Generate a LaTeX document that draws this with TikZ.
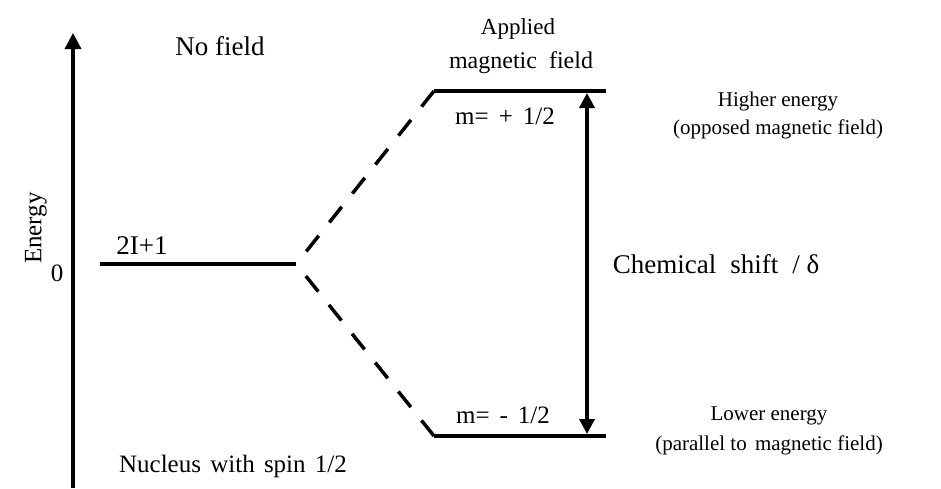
\documentclass[tikz,border=0pt]{standalone}
\usepackage{fontspec}
\setmainfont{Liberation Serif}
\usetikzlibrary{arrows.meta}
\begin{document}
\begin{tikzpicture}[x=1pt,y=-1pt,
  level/.style={line width=3.5pt},
  dashlink/.style={line width=3.5pt,dash pattern=on 20pt off 17pt},
  axis/.style={line width=3.5pt,-{Triangle[length=16pt,width=16pt]}},
  lbl/.style={font=\fontsize{25}{28}\selectfont,inner sep=0pt},
  big/.style={font=\fontsize{27}{30}\selectfont,inner sep=0pt},
  small/.style={font=\fontsize{21}{24}\selectfont,inner sep=0pt}]
\useasboundingbox (0,0) rectangle (941,488);
% energy axis
\coordinate (axb) at (73,488);
\coordinate (axt) at (73,33);
\draw[axis] (axb) -- (axt);
\node[lbl,rotate=90] (en) at (36,228) {Energy};
\node[lbl] (zero) at (57,273) {0};
% levels
\coordinate (n1) at (100,264);
\coordinate (n2) at (296,264);
\draw[level] (n1) -- (n2);
\coordinate (u1) at (434,91);
\coordinate (u2) at (606,91);
\draw[level] (u1) -- (u2);
\coordinate (l1) at (434,436);
\coordinate (l2) at (606,436);
\draw[level] (l1) -- (l2);
% dashed links
\coordinate (s1) at (297,263);
\coordinate (s2) at (297,265);
\draw[dashlink] (u1) -- (s1);
\draw[dashlink] (l1) -- (s2);
% chemical shift arrow
\coordinate (ct) at (587,93);
\coordinate (cb) at (587,434);
\draw[line width=3.5pt,{Triangle[length=15pt,width=15pt]}-{Triangle[length=15pt,width=15pt]}] (ct) -- (cb);
% texts
\node[big] (nf) at (220,46) {No field};
\node[font=\fontsize{23}{26}\selectfont,inner sep=0pt] (ap) at (518,29) {Applied};
\node[font=\fontsize{24}{26}\selectfont,inner sep=0pt] (mf) at (521,63) {magnetic\hspace{12pt}field};
\node[big] (two) at (142,246) {2I+1};
\node[lbl] (mp) at (505,116) {m=\hspace{10pt}+\hspace{10pt}1/2};
\node[lbl] (mm) at (503,415) {m=\hspace{10pt}-\hspace{10pt}1/2};
\node[big] (cs) at (716,264) {Chemical\hspace{14pt}shift\hspace{14pt}/ δ};
\node[small] (he) at (778,101) {Higher energy};
\node[small] (hp) at (778,129) {(opposed magnetic field)};
\node[small] (le) at (769,416) {Lower energy};
\node[small] (lp) at (769,445) {(parallel to\hspace{3pt} magnetic field)};
\node[lbl] (nuc) at (233,466) {Nucleus\hspace{3pt} with\hspace{3pt} spin\hspace{3pt} 1/2};
\end{tikzpicture}
\end{document}
